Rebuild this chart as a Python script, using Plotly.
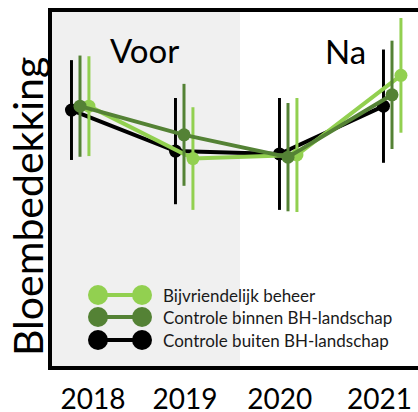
import plotly.graph_objects as go

# ---- data ----
years = [2018, 2019, 2020, 2021]
tick_labels = ["2018", "2019", "2020", "2021"]
tick_positions = [2018.125, 2019.01, 2019.92, 2020.88]

series_names = ["Bijvriendelijk beheer", "Controle binnen BH-landschap", "Controle buiten BH-landschap"]
bijvriendelijk = [73.4, 58.6, 59.6, 82.1]
bijvriendelijk_err = [14.1, 14.5, 16.1, 16.2]
binnen = [73.4, 65.3, 59.0, 76.6]
binnen_err = [14.3, 14.4, 15.3, 15.3]
buiten = [72.3, 60.7, 59.9, 73.4]
buiten_err = [14.1, 15.0, 15.8, 16.0]

colors = {"light": "#92d050", "dark": "#548235", "black": "#000000"}
offsets = {"light": 0.086, "dark": 0.0, "black": -0.082}

W, H = 418, 412
L, R, T, B = 52, 418, 12, 366   # plot area in pixels


def px(xp):
    return (xp - L) / (R - L)


def py(yp):
    return (B - yp) / (B - T)


fig = go.Figure()


def add_series(vals, errs, key, name):
    fig.add_trace(go.Scatter(
        x=[y + offsets[key] for y in years], y=vals, name=name,
        mode="lines+markers",
        line=dict(color=colors[key], width=4),
        marker=dict(color=colors[key], size=13),
        error_y=dict(type="data", array=errs, visible=True, color=colors[key], thickness=3, width=0),
        showlegend=False, cliponaxis=False,
    ))


add_series(buiten, buiten_err, "black", series_names[2])
add_series(bijvriendelijk, bijvriendelijk_err, "light", series_names[0])
add_series(binnen, binnen_err, "dark", series_names[1])

# custom legend (pixel coordinates on an overlay axis)
legend_rows = [(295, "light", series_names[0]), (317, "dark", series_names[1]), (340, "black", series_names[2])]
for ry, key, name in legend_rows:
    fig.add_trace(go.Scatter(
        x=[98, 142], y=[ry, ry], xaxis="x2", yaxis="y2",
        mode="lines+markers", line=dict(color=colors[key], width=4),
        marker=dict(color=colors[key], size=20), showlegend=False, hoverinfo="skip",
    ))

annotations = []
for ry, key, name in legend_rows:
    annotations.append(dict(x=px(161), y=py(ry), xref="paper", yref="paper", text=name, showarrow=False,
                            xanchor="left", yanchor="middle",
                            font=dict(family="Lato", size=17, color="#1a1a1a")))
annotations.append(dict(x=px(144), y=py(50), xref="paper", yref="paper", text="Voor", showarrow=False,
                        xanchor="center", yanchor="middle", font=dict(family="Lato", size=33, color="#000")))
annotations.append(dict(x=px(345), y=py(51), xref="paper", yref="paper", text="Na", showarrow=False,
                        xanchor="center", yanchor="middle", font=dict(family="Lato", size=33, color="#000")))
annotations.append(dict(x=px(27), y=py(207), xref="paper", yref="paper", text="Bloembedekking", showarrow=False,
                        textangle=-90, xanchor="center", yanchor="middle",
                        font=dict(family="Lato", size=41, color="#000")))

x_left = 2018 + (L - 80) / 104
x_right = 2018 + (R - 80) / 104
x_shade = 2018 + (240 - 80) / 104

fig.update_layout(
    width=W, height=H,
    margin=dict(l=L, r=W - R, t=T, b=H - B, pad=0, autoexpand=False),
    paper_bgcolor="white", plot_bgcolor="white",
    xaxis=dict(range=[x_left, x_right], showgrid=False, zeroline=False, automargin=False,
               tickvals=tick_positions, ticktext=tick_labels, ticks="",
               tickfont=dict(family="Lato", size=28, color="#000"),
               ticklabelstandoff=6,
               showline=True, linecolor="black", linewidth=3.5, mirror=True),
    yaxis=dict(range=[0, 100], showgrid=False, zeroline=False, showticklabels=False, ticks="",
               automargin=False,
               showline=True, linecolor="black", linewidth=3.5),
    xaxis2=dict(range=[L, R], overlaying="x", visible=False),
    yaxis2=dict(range=[B, T], overlaying="y", visible=False),
    shapes=[dict(type="rect", xref="x", yref="paper", x0=x_left, x1=x_shade, y0=0, y1=1,
                 fillcolor="#f0f0f0", line=dict(width=0), layer="below")],
    annotations=annotations,
)

fig.write_html("out.html", config={"displayModeBar": False},
               post_script="document.body.style.margin='0';document.body.style.padding='0';")
